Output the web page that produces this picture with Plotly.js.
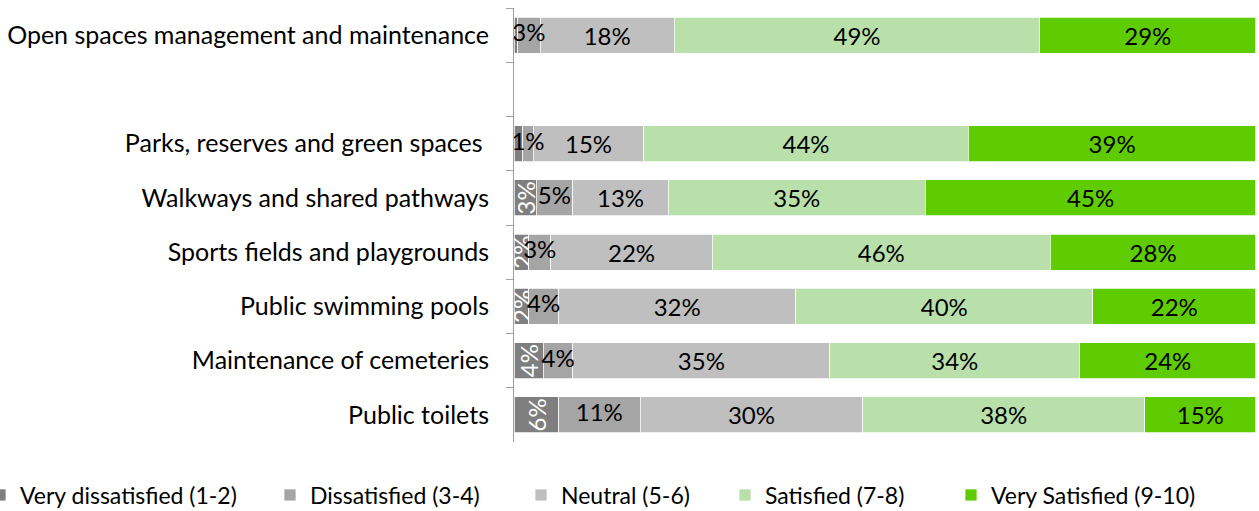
<!DOCTYPE html>
<html>
<head>
<meta charset="utf-8">
<script src="https://cdn.plot.ly/plotly-3.0.1.min.js"></script>
<style>
html, body { margin: 0; padding: 0; background: #ffffff; }
#chart { width: 1259px; height: 511px; }
</style>
</head>
<body>
<div id="chart"></div>
<script>
// ---- data ----
const categories = [
  "Open spaces management and maintenance",
  "Parks, reserves and green spaces\u00a0",
  "Walkways and shared pathways",
  "Sports fields and playgrounds",
  "Public swimming pools",
  "Maintenance of cemeteries",
  "Public toilets"
];
const spacerCategory = " ";
const seriesNames = [
  "Very dissatisfied (1-2)",
  "Dissatisfied (3-4)",
  "Neutral (5-6)",
  "Satisfied (7-8)",
  "Very Satisfied (9-10)"
];
const veryDissatisfied = [0.5, 1.2, 3, 2, 2, 4, 6];
const dissatisfied     = [3, 1.4, 5, 3, 4, 4, 11];
const neutral          = [18, 15, 13, 22, 32, 35, 30];
const satisfied        = [49, 44, 35, 46, 40, 34, 38];
const verySatisfied    = [29, 39, 45, 28, 22, 24, 15];

// ---- styles ----
const colors = ["#7f7f7f", "#a5a5a5", "#bfbfbf", "#b9e0aa", "#5ecc00"];
const FONT = "Lato, 'Open Sans', sans-serif";

const series = [veryDissatisfied, dissatisfied, neutral, satisfied, verySatisfied];
// 100% stacked: normalise each row
const totals = categories.map((_, i) => series.reduce((s, arr) => s + arr[i], 0));
const norm = series.map(arr => arr.map((v, i) => v / totals[i] * 100));
const label = v => Math.round(v) + "%";

const categoryOrder = [categories[0], spacerCategory].concat(categories.slice(1));
const legendIds = ["legend", "legend2", "legend3", "legend4", "legend5"];

const traces = series.map((arr, k) => {
  const t = {
    type: "bar",
    orientation: "h",
    name: seriesNames[k],
    y: categories,
    x: norm[k],
    marker: { color: colors[k], line: { color: "#ffffff", width: 0.75 } },
    legend: legendIds[k],
    hoverinfo: "name+text",
    cliponaxis: false
  };
  if (k === 0) {
    t.text = arr.map(v => v >= 2 ? label(v) : "");
    t.textposition = "inside";
    t.insidetextanchor = "middle";
    t.textangle = -90;
    t.constraintext = "none";
    t.textfont = { family: FONT, size: 24, color: "#ffffff" };
  } else if (k === 1) {
    t.text = arr.map(label);
    t.textposition = "none";
  } else {
    t.text = arr.map(label);
    t.textposition = "inside";
    t.insidetextanchor = "middle";
    t.textangle = 0;
    t.constraintext = "none";
    t.textfont = { family: FONT, size: 24, color: "#000000" };
  }
  return t;
});

// Dissatisfied labels drawn on top so they may overflow their narrow segments
traces.push({
  type: "scatter",
  mode: "text",
  y: categories,
  x: categories.map((_, i) => norm[0][i] + norm[1][i] / 2),
  text: dissatisfied.map(label),
  textposition: "middle center",
  textfont: { family: FONT, size: 24, color: "#000000" },
  showlegend: false,
  hoverinfo: "skip",
  cliponaxis: false
});

const legendText = [20, 310, 561, 765, 991];
const plotLeft = 514, plotWidth = 742;
const layout = {
  width: 1259,
  height: 511,
  barmode: "stack",
  bargap: 0.337,
  paper_bgcolor: "#ffffff",
  plot_bgcolor: "#ffffff",
  margin: { l: 514, r: 3, t: 8, b: 69, autoexpand: false },
  font: { family: FONT, color: "#000000" },
  showlegend: true,
  xaxis: {
    range: [0, 100.01],
    visible: false,
    fixedrange: true
  },
  yaxis: {
    type: "category",
    categoryorder: "array",
    categoryarray: categoryOrder,
    autorange: "reversed",
    showline: true,
    linecolor: "#a0a0a0",
    linewidth: 1,
    ticks: "outside",
    tickson: "boundaries",
    ticklen: 7,
    tickcolor: "#a0a0a0",
    showgrid: false,
    zeroline: false,
    ticklabelstandoff: 19,
    tickfont: { family: FONT, size: 25, color: "#000000" },
    fixedrange: true
  }
};
legendIds.forEach((id, k) => {
  layout[id] = {
    orientation: "h",
    xref: "paper",
    yref: "container",
    x: (legendText[k] - 40 - plotLeft) / plotWidth,
    xanchor: "left",
    y: (511 - 495) / 511,
    yanchor: "middle",
    bgcolor: "rgba(0,0,0,0)",
    font: { family: FONT, size: 23, color: "#000000" }
  };
});

Plotly.newPlot("chart", traces, layout, { displayModeBar: false, staticPlot: true });
</script>
</body>
</html>
